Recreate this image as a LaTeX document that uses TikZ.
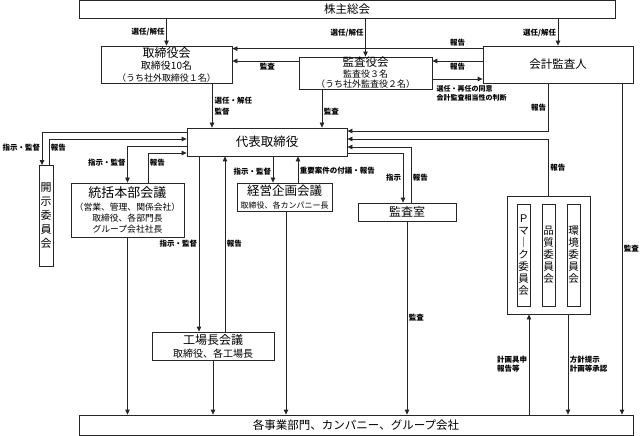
\documentclass[tikz,border=0pt]{standalone}
\usepackage{fontspec}
\setmainfont{Noto Sans CJK JP}
\usetikzlibrary{arrows.meta}
\begin{document}
\begin{tikzpicture}[x=1pt,y=-1pt,
  box/.style={draw=black!85, line width=0.8pt, fill=white, inner sep=0pt, align=center},
  arr/.style={draw=black!85, line width=0.8pt, -{Triangle[length=5pt,width=4.5pt]}},
  ln/.style={draw=black!85, line width=0.8pt},
  lab/.style={font=\fontsize{7.5}{9}\selectfont\bfseries, inner sep=1.5pt, align=left},
  vt/.style={box, font=\fontsize{10.5}{12}\selectfont},
]
\useasboundingbox (0,0) rectangle (641,436);

% boxes
\node[box, minimum width=536pt, minimum height=17.5pt, font=\fontsize{11.5}{12}\selectfont] (kabu) at (347,9.25) {株主総会};
\node[box, minimum width=131pt, minimum height=37pt, font=\fontsize{9}{12}\selectfont] (tori) at (166.5,64.5)
  {{\fontsize{12}{12}\selectfont 取締役会}\\{\fontsize{10}{12}\selectfont 取締役10名}\\（うち社外取締役１名）};
\node[box, minimum width=133pt, minimum height=32pt, font=\fontsize{9}{10.5}\selectfont] (kansayaku) at (365.5,73)
  {{\fontsize{11.5}{11}\selectfont 監査役会}\\監査役３名\\（うち社外監査役２名）};
\node[box, minimum width=150pt, minimum height=37pt, font=\fontsize{11.5}{12}\selectfont] (kaikei) at (558,64.5) {会計監査人};
\node[box, minimum width=160pt, minimum height=28pt, font=\fontsize{12.5}{13}\selectfont] (daihyo) at (267,142) {代表取締役};
\node[box, minimum width=14pt, minimum height=101pt, font=\fontsize{11}{14}\selectfont] (kaiji) at (46,216) {開\\示\\委\\員\\会};
\node[box, minimum width=113pt, minimum height=54pt, font=\fontsize{8.8}{11}\selectfont] (tokatsu) at (127.5,210)
  {{\fontsize{13}{13}\selectfont 統括本部会議}\\[2.5pt]（営業、管理、関係会社）\\取締役、各部門長\\グループ会社社長};
\node[box, minimum width=95pt, minimum height=28pt, font=\fontsize{8}{13}\selectfont] (keiei) at (284.5,197)
  {{\fontsize{12.5}{13}\selectfont 経営企画会議}\\取締役、各カンパニー長};
\node[box, minimum width=98pt, minimum height=18pt, font=\fontsize{12}{12}\selectfont] (kansashitsu) at (407,212) {監査室};
\node[box, minimum width=83pt, minimum height=118pt] (iinkai) at (548.5,255) {};
\node[vt, minimum width=13pt, minimum height=102pt] (pmark) at (523.5,255) {Ｐ\\マ\\｜\\ク\\委\\員\\会};
\node[vt, minimum width=13pt, minimum height=102pt] (hinshitsu) at (548.5,255) {品\\質\\委\\員\\会};
\node[vt, minimum width=13pt, minimum height=102pt] (kankyo) at (573.5,255) {環\\境\\委\\員\\会};
\node[box, minimum width=122pt, minimum height=28pt, font=\fontsize{10}{13}\selectfont] (kojo) at (213,346)
  {{\fontsize{12}{13}\selectfont 工場長会議}\\取締役、各工場長};
\node[box, minimum width=554pt, minimum height=20pt, font=\fontsize{11.5}{12}\selectfont] (jigyo) at (356,425) {各事業部門、カンパニー、グループ会社};

% connectors from the shareholders' meeting
\draw[arr] (tori.north |- kabu.south) -- (tori.north) node[lab, left, pos=0.5] {選任/解任};
\draw[arr] (kansayaku.north |- kabu.south) -- (kansayaku.north) node[lab, left, pos=0.38] {選任/解任};
\draw[arr] (kaikei.north |- kabu.south) -- (kaikei.north) node[lab, left, pos=0.54] {選任/解任};

% auditor connections
\draw[arr] ([yshift=-3pt]kaikei.north west) -- ([yshift=-3pt]tori.north east) node[lab, above, pos=0.1] {報告};
\draw[arr] ([yshift=3.5pt]kaikei.west) -- ([yshift=12pt]kansayaku.east) node[lab, below, midway] {報告};
\draw[arr] ([yshift=12pt]kansayaku.west) -- ([yshift=3.5pt]tori.east) node[lab, below, pos=0.47] {監査};
\draw[arr] ([yshift=-6pt]kansayaku.east) -- ([yshift=-14.5pt]kaikei.west);
\node[lab, anchor=north west, font=\fontsize{7}{9}\selectfont\bfseries] (lsennin) at (435,84) {選任・再任の同意\\会計監査相当性の判断};

% to the representative director
\draw[arr] ([xshift=45.5pt]tori.south) -- ([xshift=-55pt]daihyo.north);
\node[lab, anchor=west, font=\fontsize{7.5}{11}\selectfont\bfseries] (lkantoku) at (213,106.5) {選任・解任\\監督};
\draw[arr] ([xshift=-43.5pt]kansayaku.south) -- ([xshift=55pt]daihyo.north) node[lab, right, pos=0.59] {監査};
\draw[arr] ([xshift=-10pt]kaikei.south) |- ([yshift=11pt]daihyo.east) node[lab, left, pos=0.25] {報告};
\draw[arr] ([xshift=64pt]kaikei.south) -- ([xshift=266pt]jigyo.north) node[lab, right, midway] {監査};
\draw[arr] (iinkai.north) |- ([yshift=3pt]daihyo.east) node[lab, right, pos=0.245] {報告};
\draw[arr] ([yshift=-11pt]daihyo.east) -| ([xshift=-4pt]kansashitsu.north) node[lab, left, pos=0.75] {指示};
\draw[arr] ([xshift=4pt]kansashitsu.north) |- ([yshift=-5pt]daihyo.east) node[lab, right, pos=0.22] {報告};
\draw[arr] (kansashitsu.south) -- (kansashitsu.south |- jigyo.north) node[lab, right, midway] {監査};

% left side
\draw[arr] ([yshift=10pt]daihyo.west) -| ([xshift=-4pt]kaiji.north) node[lab, left, pos=0.73] {指示・監督};
\draw[arr] ([xshift=3pt]kaiji.north) |- ([yshift=3pt]daihyo.west) node[lab, right, pos=0.34] {報告};
\draw[arr] ([yshift=-4pt]daihyo.west) -| (tokatsu.north) node[lab, left, pos=0.73] {指示・監督};
\draw[arr] ([xshift=20.5pt]tokatsu.north) |- ([yshift=-11pt]daihyo.west) node[lab, right, pos=0.33] {報告};
\draw[arr] (tokatsu.south) -- (tokatsu.south |- jigyo.north);

% factory managers
\draw[arr] ([xshift=-68pt]daihyo.south) -- ([xshift=-14pt]kojo.north) node[lab, left, midway] {指示・監督};
\draw[arr] ([xshift=12pt]kojo.north) -- ([xshift=-42pt]daihyo.south) node[lab, right, midway] {報告};
\draw[arr] (kojo.south) -- (kojo.south |- jigyo.north);

% corporate planning
\draw[arr] ([xshift=6pt]daihyo.south) -- ([xshift=-11.5pt]keiei.north) node[lab, left, pos=0.6] {指示・監督};
\draw[arr] ([xshift=13.5pt]keiei.north) -- ([xshift=31pt]daihyo.south) node[lab, right, pos=0.44] {重要案件の付議・報告};
\draw[arr] ([xshift=1.5pt]keiei.south) -- ([xshift=1.5pt]keiei.south |- jigyo.north);

% committees
\draw[arr] ([xshift=19.5pt]iinkai.south) -- ([xshift=19.5pt]iinkai.south |- jigyo.north) node[lab, right, midway] {方針提示\\計画等承認};
\draw[arr] ([xshift=-19.5pt]iinkai.south |- jigyo.north) -- ([xshift=-19.5pt]iinkai.south) node[lab, left, midway] {計画具申\\報告等};
\end{tikzpicture}
\end{document}
